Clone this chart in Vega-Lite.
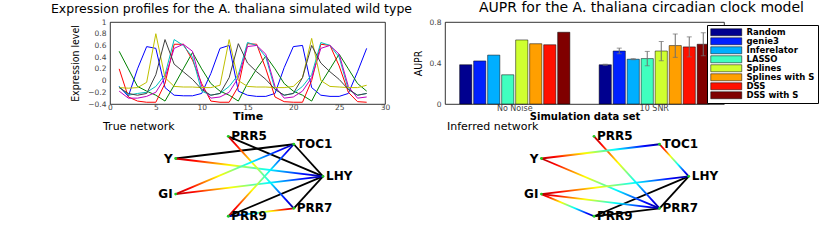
{
  "$schema": "https://vega.github.io/schema/vega-lite/v6.json",
  "padding": {"left": 50, "top": 0, "right": 0, "bottom": 0},
  "background": "white",
  "config": {
    "font": "DejaVu Sans",
    "view": {"stroke": null},
    "title": {"font": "DejaVu Sans", "fontWeight": "normal", "color": "black", "fontSize": 11},
    "axis": {"labelFont": "DejaVu Sans", "labelColor": "#444", "labelFontSize": 7.5, "ticks": false, "domain": false, "grid": false, "labelOverlap": false, "titleColor": "black"}
  },
  "datasets": {
    "series": [
      {"gene":"LHY","t":1,"v":-0.10},{"gene":"LHY","t":2,"v":-0.27},{"gene":"LHY","t":3,"v":0.20},{"gene":"LHY","t":4,"v":0.58},{"gene":"LHY","t":5,"v":0.55},{"gene":"LHY","t":6,"v":-0.12},{"gene":"LHY","t":7,"v":-0.25},{"gene":"LHY","t":8,"v":-0.26},{"gene":"LHY","t":9,"v":-0.26},{"gene":"LHY","t":10,"v":-0.22},{"gene":"LHY","t":11,"v":0.12},{"gene":"LHY","t":12,"v":0.55},{"gene":"LHY","t":13,"v":0.60},{"gene":"LHY","t":14,"v":-0.18},{"gene":"LHY","t":15,"v":-0.25},{"gene":"LHY","t":16,"v":-0.27},{"gene":"LHY","t":17,"v":-0.27},{"gene":"LHY","t":18,"v":-0.22},{"gene":"LHY","t":19,"v":0.22},{"gene":"LHY","t":20,"v":0.58},{"gene":"LHY","t":21,"v":0.60},{"gene":"LHY","t":22,"v":-0.12},{"gene":"LHY","t":23,"v":-0.25},{"gene":"LHY","t":24,"v":-0.27},{"gene":"LHY","t":25,"v":-0.27},{"gene":"LHY","t":26,"v":-0.22},{"gene":"LHY","t":27,"v":0.15},{"gene":"LHY","t":28,"v":0.55},
      {"gene":"TOC1","t":1,"v":0.50},{"gene":"TOC1","t":2,"v":0.20},{"gene":"TOC1","t":3,"v":-0.10},{"gene":"TOC1","t":4,"v":-0.18},{"gene":"TOC1","t":5,"v":-0.25},{"gene":"TOC1","t":6,"v":-0.35},{"gene":"TOC1","t":7,"v":-0.08},{"gene":"TOC1","t":8,"v":0.20},{"gene":"TOC1","t":9,"v":0.48},{"gene":"TOC1","t":10,"v":0.20},{"gene":"TOC1","t":11,"v":-0.05},{"gene":"TOC1","t":12,"v":-0.18},{"gene":"TOC1","t":13,"v":-0.25},{"gene":"TOC1","t":14,"v":-0.35},{"gene":"TOC1","t":15,"v":-0.05},{"gene":"TOC1","t":16,"v":0.20},{"gene":"TOC1","t":17,"v":0.42},{"gene":"TOC1","t":18,"v":0.20},{"gene":"TOC1","t":19,"v":-0.05},{"gene":"TOC1","t":20,"v":-0.18},{"gene":"TOC1","t":21,"v":-0.25},{"gene":"TOC1","t":22,"v":-0.35},{"gene":"TOC1","t":23,"v":-0.05},{"gene":"TOC1","t":24,"v":0.20},{"gene":"TOC1","t":25,"v":0.45},{"gene":"TOC1","t":26,"v":0.20},{"gene":"TOC1","t":27,"v":-0.05},{"gene":"TOC1","t":28,"v":-0.18},
      {"gene":"PRR7","t":1,"v":0.20},{"gene":"PRR7","t":2,"v":-0.28},{"gene":"PRR7","t":3,"v":-0.35},{"gene":"PRR7","t":4,"v":-0.37},{"gene":"PRR7","t":5,"v":-0.37},{"gene":"PRR7","t":6,"v":-0.05},{"gene":"PRR7","t":7,"v":0.62},{"gene":"PRR7","t":8,"v":0.62},{"gene":"PRR7","t":9,"v":0.35},{"gene":"PRR7","t":10,"v":-0.05},{"gene":"PRR7","t":11,"v":-0.35},{"gene":"PRR7","t":12,"v":-0.37},{"gene":"PRR7","t":13,"v":-0.37},{"gene":"PRR7","t":14,"v":-0.10},{"gene":"PRR7","t":15,"v":0.63},{"gene":"PRR7","t":16,"v":0.62},{"gene":"PRR7","t":17,"v":0.20},{"gene":"PRR7","t":18,"v":-0.28},{"gene":"PRR7","t":19,"v":-0.36},{"gene":"PRR7","t":20,"v":-0.37},{"gene":"PRR7","t":21,"v":-0.37},{"gene":"PRR7","t":22,"v":0.00},{"gene":"PRR7","t":23,"v":0.62},{"gene":"PRR7","t":24,"v":0.60},{"gene":"PRR7","t":25,"v":0.25},{"gene":"PRR7","t":26,"v":-0.20},{"gene":"PRR7","t":27,"v":-0.36},{"gene":"PRR7","t":28,"v":-0.37},
      {"gene":"PRR9","t":1,"v":-0.10},{"gene":"PRR9","t":2,"v":-0.25},{"gene":"PRR9","t":3,"v":-0.22},{"gene":"PRR9","t":4,"v":-0.20},{"gene":"PRR9","t":5,"v":-0.10},{"gene":"PRR9","t":6,"v":0.10},{"gene":"PRR9","t":7,"v":0.70},{"gene":"PRR9","t":8,"v":0.60},{"gene":"PRR9","t":9,"v":0.40},{"gene":"PRR9","t":10,"v":-0.18},{"gene":"PRR9","t":11,"v":-0.25},{"gene":"PRR9","t":12,"v":-0.22},{"gene":"PRR9","t":13,"v":-0.10},{"gene":"PRR9","t":14,"v":0.10},{"gene":"PRR9","t":15,"v":0.65},{"gene":"PRR9","t":16,"v":0.60},{"gene":"PRR9","t":17,"v":0.40},{"gene":"PRR9","t":18,"v":-0.15},{"gene":"PRR9","t":19,"v":-0.25},{"gene":"PRR9","t":20,"v":-0.22},{"gene":"PRR9","t":21,"v":-0.10},{"gene":"PRR9","t":22,"v":0.10},{"gene":"PRR9","t":23,"v":0.65},{"gene":"PRR9","t":24,"v":0.60},{"gene":"PRR9","t":25,"v":0.40},{"gene":"PRR9","t":26,"v":-0.15},{"gene":"PRR9","t":27,"v":-0.25},{"gene":"PRR9","t":28,"v":-0.22},
      {"gene":"PRR5","t":1,"v":-0.18},{"gene":"PRR5","t":2,"v":-0.30},{"gene":"PRR5","t":3,"v":-0.30},{"gene":"PRR5","t":4,"v":-0.27},{"gene":"PRR5","t":5,"v":-0.20},{"gene":"PRR5","t":6,"v":0.05},{"gene":"PRR5","t":7,"v":0.55},{"gene":"PRR5","t":8,"v":0.62},{"gene":"PRR5","t":9,"v":0.50},{"gene":"PRR5","t":10,"v":-0.10},{"gene":"PRR5","t":11,"v":-0.30},{"gene":"PRR5","t":12,"v":-0.28},{"gene":"PRR5","t":13,"v":-0.20},{"gene":"PRR5","t":14,"v":0.05},{"gene":"PRR5","t":15,"v":0.58},{"gene":"PRR5","t":16,"v":0.60},{"gene":"PRR5","t":17,"v":0.45},{"gene":"PRR5","t":18,"v":-0.10},{"gene":"PRR5","t":19,"v":-0.30},{"gene":"PRR5","t":20,"v":-0.28},{"gene":"PRR5","t":21,"v":-0.18},{"gene":"PRR5","t":22,"v":0.05},{"gene":"PRR5","t":23,"v":0.55},{"gene":"PRR5","t":24,"v":0.60},{"gene":"PRR5","t":25,"v":0.45},{"gene":"PRR5","t":26,"v":-0.10},{"gene":"PRR5","t":27,"v":-0.30},{"gene":"PRR5","t":28,"v":-0.28},
      {"gene":"GI","t":1,"v":-0.12},{"gene":"GI","t":2,"v":-0.13},{"gene":"GI","t":3,"v":-0.12},{"gene":"GI","t":4,"v":-0.03},{"gene":"GI","t":5,"v":0.80},{"gene":"GI","t":6,"v":0.05},{"gene":"GI","t":7,"v":-0.10},{"gene":"GI","t":8,"v":-0.11},{"gene":"GI","t":9,"v":-0.11},{"gene":"GI","t":10,"v":-0.12},{"gene":"GI","t":11,"v":-0.12},{"gene":"GI","t":12,"v":-0.08},{"gene":"GI","t":13,"v":0.70},{"gene":"GI","t":14,"v":0.00},{"gene":"GI","t":15,"v":-0.10},{"gene":"GI","t":16,"v":-0.11},{"gene":"GI","t":17,"v":-0.11},{"gene":"GI","t":18,"v":-0.12},{"gene":"GI","t":19,"v":-0.12},{"gene":"GI","t":20,"v":-0.10},{"gene":"GI","t":21,"v":0.05},{"gene":"GI","t":22,"v":0.72},{"gene":"GI","t":23,"v":0.00},{"gene":"GI","t":24,"v":-0.10},{"gene":"GI","t":25,"v":-0.11},{"gene":"GI","t":26,"v":-0.12},{"gene":"GI","t":27,"v":-0.12},{"gene":"GI","t":28,"v":-0.08},
      {"gene":"Y","t":1,"v":-0.12},{"gene":"Y","t":2,"v":-0.22},{"gene":"Y","t":3,"v":-0.25},{"gene":"Y","t":4,"v":-0.22},{"gene":"Y","t":5,"v":0.10},{"gene":"Y","t":6,"v":0.70},{"gene":"Y","t":7,"v":0.28},{"gene":"Y","t":8,"v":0.15},{"gene":"Y","t":9,"v":0.02},{"gene":"Y","t":10,"v":-0.15},{"gene":"Y","t":11,"v":-0.25},{"gene":"Y","t":12,"v":-0.22},{"gene":"Y","t":13,"v":0.05},{"gene":"Y","t":14,"v":0.63},{"gene":"Y","t":15,"v":0.30},{"gene":"Y","t":16,"v":0.15},{"gene":"Y","t":17,"v":0.02},{"gene":"Y","t":18,"v":-0.15},{"gene":"Y","t":19,"v":-0.25},{"gene":"Y","t":20,"v":-0.22},{"gene":"Y","t":21,"v":0.05},{"gene":"Y","t":22,"v":0.60},{"gene":"Y","t":23,"v":0.30},{"gene":"Y","t":24,"v":0.15},{"gene":"Y","t":25,"v":0.02},{"gene":"Y","t":26,"v":-0.15},{"gene":"Y","t":27,"v":-0.25},{"gene":"Y","t":28,"v":-0.22}
    ],
    "aupr": [
      {"dataset":"No Noise","method":"Random","aupr":0.383},
      {"dataset":"No Noise","method":"genie3","aupr":0.42},
      {"dataset":"No Noise","method":"Inferelator","aupr":0.477},
      {"dataset":"No Noise","method":"LASSO","aupr":0.285},
      {"dataset":"No Noise","method":"Splines","aupr":0.625},
      {"dataset":"No Noise","method":"Splines with S","aupr":0.588},
      {"dataset":"No Noise","method":"DSS","aupr":0.578},
      {"dataset":"No Noise","method":"DSS with S","aupr":0.70},
      {"dataset":"10 SNR","method":"Random","aupr":0.383,"lo":0.378,"hi":0.388},
      {"dataset":"10 SNR","method":"genie3","aupr":0.517,"lo":0.49,"hi":0.545},
      {"dataset":"10 SNR","method":"Inferelator","aupr":0.437,"lo":0.432,"hi":0.442},
      {"dataset":"10 SNR","method":"LASSO","aupr":0.443,"lo":0.373,"hi":0.513},
      {"dataset":"10 SNR","method":"Splines","aupr":0.517,"lo":0.422,"hi":0.61},
      {"dataset":"10 SNR","method":"Splines with S","aupr":0.57,"lo":0.455,"hi":0.683},
      {"dataset":"10 SNR","method":"DSS","aupr":0.557,"lo":0.46,"hi":0.655},
      {"dataset":"10 SNR","method":"DSS with S","aupr":0.583,"lo":0.47,"hi":0.695}
    ],
    "nodes": [
      {"id":"LHY","x":1,"y":0},
      {"id":"TOC1","x":0.6235,"y":0.7818},
      {"id":"PRR5","x":-0.2225,"y":0.9749},
      {"id":"Y","x":-0.901,"y":0.4339},
      {"id":"GI","x":-0.901,"y":-0.4339},
      {"id":"PRR9","x":-0.2225,"y":-0.9749},
      {"id":"PRR7","x":0.6235,"y":-0.7818}
    ],
    "edges": [
      {"net":"truth","src":"Y","tgt":"TOC1","kind":"mutual"},
      {"net":"truth","src":"PRR5","tgt":"LHY","kind":"mutual"},
      {"net":"truth","src":"TOC1","tgt":"LHY","kind":"mutual"},
      {"net":"truth","src":"PRR7","tgt":"LHY","kind":"mutual"},
      {"net":"truth","src":"PRR9","tgt":"LHY","kind":"mutual"},
      {"net":"truth","src":"Y","tgt":"LHY","kind":"dir"},
      {"net":"truth","src":"GI","tgt":"TOC1","kind":"dir"},
      {"net":"truth","src":"GI","tgt":"LHY","kind":"dir"},
      {"net":"truth","src":"PRR5","tgt":"PRR7","kind":"dir"},
      {"net":"truth","src":"PRR9","tgt":"TOC1","kind":"dir"},
      {"net":"truth","src":"PRR7","tgt":"PRR9","kind":"dir"},
      {"net":"inferred","src":"PRR9","tgt":"LHY","kind":"mutual"},
      {"net":"inferred","src":"PRR9","tgt":"PRR7","kind":"mutual"},
      {"net":"inferred","src":"PRR7","tgt":"LHY","kind":"mutual"},
      {"net":"inferred","src":"PRR5","tgt":"PRR7","kind":"dir"},
      {"net":"inferred","src":"Y","tgt":"TOC1","kind":"dir"},
      {"net":"inferred","src":"TOC1","tgt":"LHY","kind":"dir"},
      {"net":"inferred","src":"Y","tgt":"PRR7","kind":"dir"},
      {"net":"inferred","src":"GI","tgt":"LHY","kind":"dir"},
      {"net":"inferred","src":"GI","tgt":"PRR7","kind":"dir"},
      {"net":"inferred","src":"GI","tgt":"PRR9","kind":"dir"}
    ]
  },
  "columns": 2,
  "spacing": {"row": 32, "column": 60},
  "bounds": "flush",
  "concat": [
    {
      "width": 275, "height": 82,
      "title": {"text": "Expression profiles for the A. thaliana simulated wild type", "fontSize": 12.5, "dx": -16, "offset": 3},
      "view": {"stroke": "black", "strokeWidth": 0.8},
      "data": {"name": "series"},
      "mark": {"type": "line", "strokeWidth": 1},
      "encoding": {
        "x": {"field": "t", "type": "quantitative", "scale": {"domain": [0, 30], "nice": false},
              "axis": {"values": [0, 5, 10, 15, 20, 25, 30], "title": "Time", "titleFontWeight": "bold", "titleFontSize": 11, "titlePadding": 0, "labelPadding": -1, "labelFlush": false}},
        "y": {"field": "v", "type": "quantitative", "scale": {"domain": [-0.4, 1], "nice": false},
              "axis": {"values": [-0.4, -0.2, 0, 0.2, 0.4, 0.6, 0.8, 1], "format": ".1~f", "title": "Expression level", "titleFont": "Liberation Sans Narrow, DejaVu Sans Condensed, sans-serif", "titleFontSize": 10.5, "titleFontWeight": "normal", "labelPadding": 4, "titlePadding": 7}},
        "color": {"field": "gene", "type": "nominal", "legend": null,
                  "scale": {"domain": ["LHY", "TOC1", "PRR7", "PRR9", "PRR5", "GI", "Y"], "range": ["#0000ff", "#008000", "#ff0000", "#00bfbf", "#bf00bf", "#bfbf00", "#404040"]}}
      }
    },
    {
      "width": 279, "height": 82,
      "title": {"text": "AUPR for the  A. thaliana circadian clock model", "fontSize": 14, "dx": 57, "offset": 3},
      "view": {"stroke": "black", "strokeWidth": 0.8},
      "data": {"name": "aupr"},
      "encoding": {
        "x": {"field": "dataset", "type": "nominal", "sort": ["No Noise", "10 SNR"], "scale": {"paddingInner": 0.21, "paddingOuter": 0.105},
              "axis": {"labelAngle": 0, "title": "Simulation data set", "titleFontWeight": "bold", "titleFontSize": 10, "titlePadding": -1, "labelFontSize": 8, "labelPadding": 0.5}},
        "xOffset": {"field": "method", "type": "nominal", "sort": ["Random", "genie3", "Inferelator", "LASSO", "Splines", "Splines with S", "DSS", "DSS with S"], "scale": {"paddingInner": 0.13}}
      },
      "layer": [
        {
          "mark": {"type": "bar", "stroke": "black", "strokeWidth": 0.5},
          "encoding": {
            "y": {"field": "aupr", "type": "quantitative", "scale": {"domain": [0, 0.8], "nice": false},
                  "axis": {"values": [0, 0.2, 0.4, 0.6, 0.8], "format": ".1~f", "title": "AUPR", "titleFont": "Liberation Sans Narrow, DejaVu Sans Condensed, sans-serif", "titleFontSize": 10.5, "titleFontWeight": "normal", "labelPadding": 4, "titlePadding": 6}},
            "fill": {"field": "method", "type": "nominal", "sort": ["Random", "genie3", "Inferelator", "LASSO", "Splines", "Splines with S", "DSS", "DSS with S"],
                     "scale": {"range": ["#00008f", "#0020ff", "#00afff", "#40ffbf", "#cfff30", "#ff9f00", "#ff1000", "#800000"]},
                     "legend": {"orient": "none", "legendX": 597, "legendY": 3, "title": null, "fillColor": "white", "strokeColor": "black", "padding": 3,
                                "symbolType": "M-4.43,-1H4.43V1H-4.43Z", "symbolSize": 49, "symbolOffset": 12, "symbolStrokeColor": "black", "symbolStrokeWidth": 0.5, "symbolOpacity": 1,
                                "labelFont": "DejaVu Sans", "labelFontSize": 8.5, "labelFontWeight": "bold", "labelColor": "black", "labelOffset": 16, "rowPadding": -2.5, "labelLimit": 200}}
          }
        },
        {
          "transform": [{"filter": "isValid(datum.lo)"}],
          "mark": {"type": "rule", "color": "#6e6e6e", "strokeWidth": 1},
          "encoding": {"y": {"field": "lo", "type": "quantitative"}, "y2": {"field": "hi"}}
        },
        {
          "transform": [{"filter": "isValid(datum.lo)"}],
          "mark": {"type": "tick", "color": "#6e6e6e", "thickness": 1, "size": 5, "orient": "horizontal"},
          "encoding": {"y": {"field": "lo", "type": "quantitative"}}
        },
        {
          "transform": [{"filter": "isValid(datum.lo)"}],
          "mark": {"type": "tick", "color": "#6e6e6e", "thickness": 1, "size": 5, "orient": "horizontal"},
          "encoding": {"y": {"field": "hi", "type": "quantitative"}}
        }
      ]
    },
    {
      "width": 275, "height": 90,
      "title": {"text": "True network", "anchor": "start", "dx": -7, "offset": -2},
      "data": {"name": "edges"},
      "encoding": {
        "x": {"field": "x", "type": "quantitative", "scale": {"domain": [-1.748, 1.8], "nice": false, "zero": false}, "axis": null},
        "y": {"field": "y", "type": "quantitative", "scale": {"domain": [-1.212, 0.983], "nice": false, "zero": false}, "axis": null}
      },
      "layer": [
        {
          "transform": [{"filter": "datum.net == 'truth' && datum.kind == 'mutual'"},
                        {"lookup": "src", "from": {"data": {"name": "nodes"}, "key": "id", "fields": ["x", "y"]}, "as": ["x", "y"]},
                        {"lookup": "tgt", "from": {"data": {"name": "nodes"}, "key": "id", "fields": ["x", "y"]}, "as": ["x2", "y2"]}],
          "mark": {"type": "rule", "stroke": "black", "strokeWidth": 1.8},
          "encoding": {"x2": {"field": "x2"}, "y2": {"field": "y2"}}
        },
        {
          "transform": [{"filter": "datum.net == 'truth' && datum.kind == 'dir'"},
                        {"lookup": "src", "from": {"data": {"name": "nodes"}, "key": "id", "fields": ["x", "y"]}, "as": ["x", "y"]},
                        {"lookup": "tgt", "from": {"data": {"name": "nodes"}, "key": "id", "fields": ["x", "y"]}, "as": ["x2", "y2"]},
                        {"filter": "datum.x < datum.x2 && datum.y > datum.y2"}],
          "mark": {"type": "rule", "strokeWidth": 1.8, "stroke": {"gradient": "linear", "x1": 0, "y1": 0, "x2": 1, "y2": 1, "stops": [{"offset": 0, "color": "#b00000"}, {"offset": 0.12, "color": "#ff0000"}, {"offset": 0.37, "color": "#ffff00"}, {"offset": 0.5, "color": "#80ff80"}, {"offset": 0.63, "color": "#00ffff"}, {"offset": 0.88, "color": "#0000ff"}, {"offset": 1, "color": "#00008f"}]}},
          "encoding": {"x2": {"field": "x2"}, "y2": {"field": "y2"}}
        },
        {
          "transform": [{"filter": "datum.net == 'truth' && datum.kind == 'dir'"},
                        {"lookup": "src", "from": {"data": {"name": "nodes"}, "key": "id", "fields": ["x", "y"]}, "as": ["x", "y"]},
                        {"lookup": "tgt", "from": {"data": {"name": "nodes"}, "key": "id", "fields": ["x", "y"]}, "as": ["x2", "y2"]},
                        {"filter": "datum.x < datum.x2 && datum.y < datum.y2"}],
          "mark": {"type": "rule", "strokeWidth": 1.8, "stroke": {"gradient": "linear", "x1": 0, "y1": 1, "x2": 1, "y2": 0, "stops": [{"offset": 0, "color": "#b00000"}, {"offset": 0.12, "color": "#ff0000"}, {"offset": 0.37, "color": "#ffff00"}, {"offset": 0.5, "color": "#80ff80"}, {"offset": 0.63, "color": "#00ffff"}, {"offset": 0.88, "color": "#0000ff"}, {"offset": 1, "color": "#00008f"}]}},
          "encoding": {"x2": {"field": "x2"}, "y2": {"field": "y2"}}
        },
        {
          "transform": [{"filter": "datum.net == 'truth' && datum.kind == 'dir'"},
                        {"lookup": "src", "from": {"data": {"name": "nodes"}, "key": "id", "fields": ["x", "y"]}, "as": ["x", "y"]},
                        {"lookup": "tgt", "from": {"data": {"name": "nodes"}, "key": "id", "fields": ["x", "y"]}, "as": ["x2", "y2"]},
                        {"filter": "datum.x > datum.x2 && datum.y > datum.y2"}],
          "mark": {"type": "rule", "strokeWidth": 1.8, "stroke": {"gradient": "linear", "x1": 1, "y1": 0, "x2": 0, "y2": 1, "stops": [{"offset": 0, "color": "#b00000"}, {"offset": 0.12, "color": "#ff0000"}, {"offset": 0.37, "color": "#ffff00"}, {"offset": 0.5, "color": "#80ff80"}, {"offset": 0.63, "color": "#00ffff"}, {"offset": 0.88, "color": "#0000ff"}, {"offset": 1, "color": "#00008f"}]}},
          "encoding": {"x2": {"field": "x2"}, "y2": {"field": "y2"}}
        },
        {
          "data": {"name": "nodes"},
          "mark": {"type": "point", "filled": true, "color": "#22cc22", "size": 8, "opacity": 1},
          "encoding": {}
        },
        {
          "data": {"name": "nodes"},
          "transform": [{"filter": "datum.x > -0.5"}],
          "mark": {"type": "text", "align": "left", "baseline": "middle", "dx": 3, "fontWeight": "bold", "fontSize": 12, "font": "DejaVu Sans", "color": "black"},
          "encoding": {"text": {"field": "id"}}
        },
        {
          "data": {"name": "nodes"},
          "transform": [{"filter": "datum.x < -0.5"}],
          "mark": {"type": "text", "align": "right", "baseline": "middle", "dx": -3, "fontWeight": "bold", "fontSize": 12, "font": "DejaVu Sans", "color": "black"},
          "encoding": {"text": {"field": "id"}}
        }
      ]
    },
    {
      "width": 279, "height": 90,
      "title": {"text": "Inferred network", "anchor": "start", "dx": 2, "offset": -2},
      "data": {"name": "edges"},
      "encoding": {
        "x": {"field": "x", "type": "quantitative", "scale": {"domain": [-2.145, 1.455], "nice": false, "zero": false}, "axis": null},
        "y": {"field": "y", "type": "quantitative", "scale": {"domain": [-1.212, 0.983], "nice": false, "zero": false}, "axis": null}
      },
      "layer": [
        {
          "transform": [{"filter": "datum.net == 'inferred' && datum.kind == 'mutual'"},
                        {"lookup": "src", "from": {"data": {"name": "nodes"}, "key": "id", "fields": ["x", "y"]}, "as": ["x", "y"]},
                        {"lookup": "tgt", "from": {"data": {"name": "nodes"}, "key": "id", "fields": ["x", "y"]}, "as": ["x2", "y2"]}],
          "mark": {"type": "rule", "stroke": "black", "strokeWidth": 1.8},
          "encoding": {"x2": {"field": "x2"}, "y2": {"field": "y2"}}
        },
        {
          "transform": [{"filter": "datum.net == 'inferred' && datum.kind == 'dir'"},
                        {"lookup": "src", "from": {"data": {"name": "nodes"}, "key": "id", "fields": ["x", "y"]}, "as": ["x", "y"]},
                        {"lookup": "tgt", "from": {"data": {"name": "nodes"}, "key": "id", "fields": ["x", "y"]}, "as": ["x2", "y2"]},
                        {"filter": "datum.x < datum.x2 && datum.y > datum.y2"}],
          "mark": {"type": "rule", "strokeWidth": 1.8, "stroke": {"gradient": "linear", "x1": 0, "y1": 0, "x2": 1, "y2": 1, "stops": [{"offset": 0, "color": "#b00000"}, {"offset": 0.12, "color": "#ff0000"}, {"offset": 0.37, "color": "#ffff00"}, {"offset": 0.5, "color": "#80ff80"}, {"offset": 0.63, "color": "#00ffff"}, {"offset": 0.88, "color": "#0000ff"}, {"offset": 1, "color": "#00008f"}]}},
          "encoding": {"x2": {"field": "x2"}, "y2": {"field": "y2"}}
        },
        {
          "transform": [{"filter": "datum.net == 'inferred' && datum.kind == 'dir'"},
                        {"lookup": "src", "from": {"data": {"name": "nodes"}, "key": "id", "fields": ["x", "y"]}, "as": ["x", "y"]},
                        {"lookup": "tgt", "from": {"data": {"name": "nodes"}, "key": "id", "fields": ["x", "y"]}, "as": ["x2", "y2"]},
                        {"filter": "datum.x < datum.x2 && datum.y < datum.y2"}],
          "mark": {"type": "rule", "strokeWidth": 1.8, "stroke": {"gradient": "linear", "x1": 0, "y1": 1, "x2": 1, "y2": 0, "stops": [{"offset": 0, "color": "#b00000"}, {"offset": 0.12, "color": "#ff0000"}, {"offset": 0.37, "color": "#ffff00"}, {"offset": 0.5, "color": "#80ff80"}, {"offset": 0.63, "color": "#00ffff"}, {"offset": 0.88, "color": "#0000ff"}, {"offset": 1, "color": "#00008f"}]}},
          "encoding": {"x2": {"field": "x2"}, "y2": {"field": "y2"}}
        },
        {
          "data": {"name": "nodes"},
          "mark": {"type": "point", "filled": true, "color": "#22cc22", "size": 8, "opacity": 1},
          "encoding": {}
        },
        {
          "data": {"name": "nodes"},
          "transform": [{"filter": "datum.x > -0.5"}],
          "mark": {"type": "text", "align": "left", "baseline": "middle", "dx": 3, "fontWeight": "bold", "fontSize": 12, "font": "DejaVu Sans", "color": "black"},
          "encoding": {"text": {"field": "id"}}
        },
        {
          "data": {"name": "nodes"},
          "transform": [{"filter": "datum.x < -0.5"}],
          "mark": {"type": "text", "align": "right", "baseline": "middle", "dx": -3, "fontWeight": "bold", "fontSize": 12, "font": "DejaVu Sans", "color": "black"},
          "encoding": {"text": {"field": "id"}}
        }
      ]
    }
  ]
}
